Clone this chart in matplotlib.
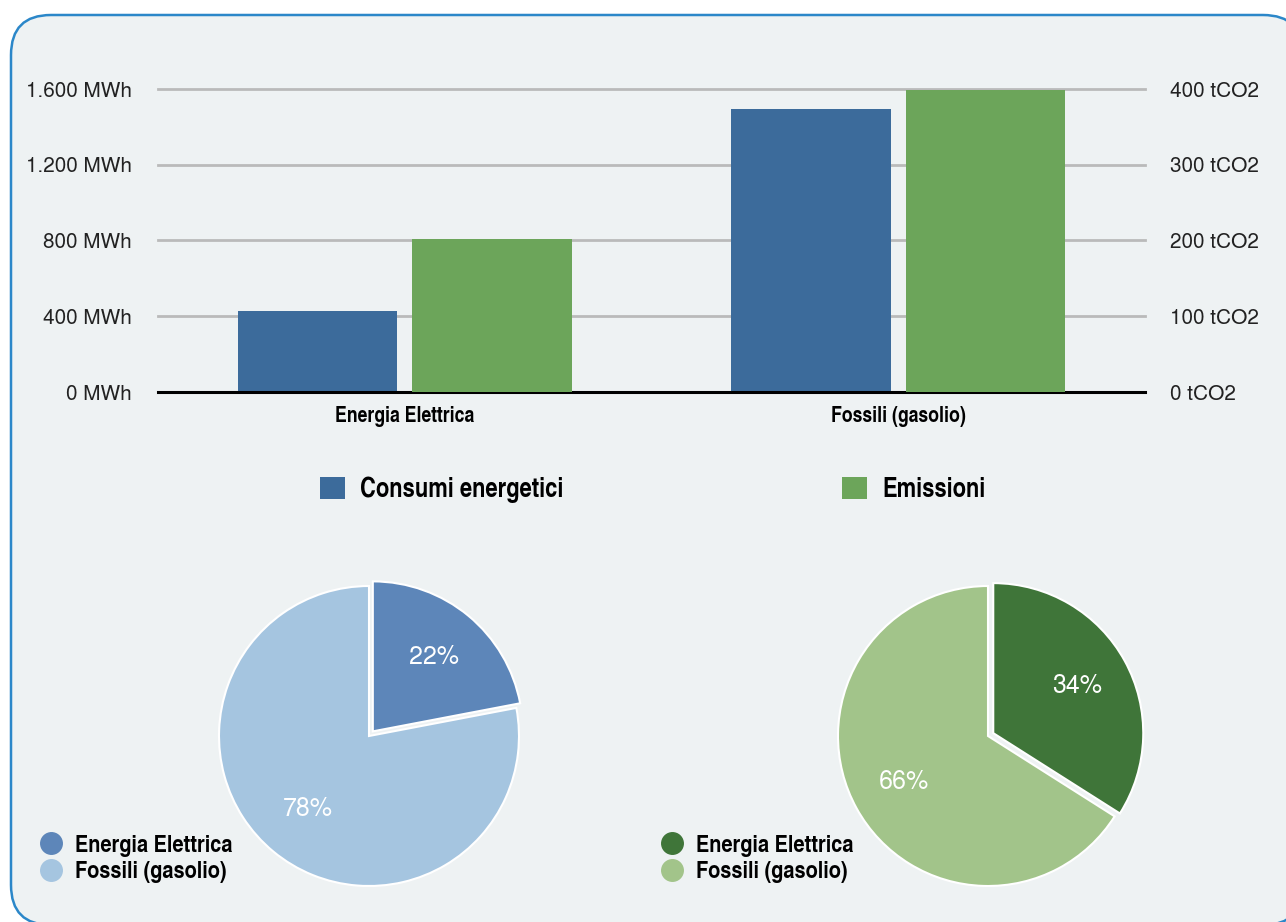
import matplotlib

matplotlib.use("Agg")
import matplotlib.pyplot as plt
import numpy as np
from matplotlib.lines import Line2D
from matplotlib.patches import FancyBboxPatch
from matplotlib.ticker import FuncFormatter, MultipleLocator

# data
categories = ["Energia Elettrica", "Fossili (gasolio)"]
consumi_mwh = [428, 1494]
emissioni_tco2 = [202, 399]
pie_consumi = [22, 78]
pie_emissioni = [34, 66]
series_labels = ["Consumi energetici", "Emissioni"]

BG = "#eef2f3"
BLUE = "#3c6b9b"
GREEN = "#6ca55a"
CONSUMI_PIE = ["#5d86b9", "#a5c5e0"]
EMISSIONI_PIE = ["#3f7539", "#a2c48a"]
LIGHT = ["TeX Gyre Heros", "Liberation Sans", "DejaVu Sans"]
BOLD = ["TeX Gyre Heros Cn", "Liberation Sans", "DejaVu Sans"]

W, H = 1286, 922
fig = plt.figure(figsize=(W / 100, H / 100), dpi=100, facecolor="white")

# rounded panel behind everything
panel = FancyBboxPatch(
    (0.11, -0.03), 12.92, 9.10, boxstyle="round,pad=0,rounding_size=0.4",
    transform=fig.dpi_scale_trans, facecolor=BG, edgecolor="#2b87c9",
    linewidth=1.8, zorder=-10,
)
fig.patches.append(panel)


def px_box(x0, y0, x1, y1):
    return [x0 / W, 1 - y1 / H, (x1 - x0) / W, (y1 - y0) / H]


# ---- grouped bars, two y axes
ax = fig.add_axes(px_box(158, 89, 1145, 392))
ax2 = ax.twinx()
for a in (ax, ax2):
    a.patch.set_visible(False)
    for s in a.spines.values():
        s.set_visible(False)

x = np.arange(len(categories))
bw, off = 0.323, 0.177
ax.set_ylim(0, 1600)
ax2.set_ylim(0, 400)
ax.set_xlim(-0.5, 1.5)
ax.bar(x - off, consumi_mwh, bw, color=BLUE, zorder=3, label=series_labels[0])
ax2.bar(x + off, emissioni_tco2, bw, color=GREEN, zorder=3, label=series_labels[1])

ax.yaxis.set_major_locator(MultipleLocator(400))
ax2.yaxis.set_major_locator(MultipleLocator(100))
ax.yaxis.grid(True, color="#bababa", linewidth=2, clip_on=False)
ax.set_axisbelow(True)
ax.spines["bottom"].set_visible(True)
ax.spines["bottom"].set_color("black")
ax.spines["bottom"].set_linewidth(2.2)
ax.spines["bottom"].set_zorder(4)

fmt = lambda unit: FuncFormatter(lambda v, p: f"{v:,.0f}".replace(",", ".") + f" {unit}")
ax.yaxis.set_major_formatter(fmt("MWh"))
ax2.yaxis.set_major_formatter(fmt("tCO2"))
ax.tick_params(axis="y", length=0, pad=19, labelsize=15, labelcolor="#222222")
ax2.tick_params(axis="y", length=0, pad=18, labelsize=15, labelcolor="#222222")
for t in ax.get_yticklabels() + ax2.get_yticklabels():
    t.set_family(LIGHT)

ax.set_xticks(x)
ax.set_xticklabels(categories)
ax.tick_params(axis="x", length=0, pad=10)
for t in ax.get_xticklabels():
    t.set_family(BOLD)
    t.set_fontweight("bold")
    t.set_fontsize(15.5)

# bar legend
handles = [ax.patches[0], ax2.patches[0]]
fig.legend(
    handles, series_labels, loc="center left", bbox_to_anchor=(320 / W, 1 - 490 / H),
    ncol=2, frameon=False, borderpad=0, borderaxespad=0, handlelength=0.93,
    handleheight=0.93, handletextpad=0.57, columnspacing=10.4,
    prop={"family": BOLD, "weight": "bold", "size": 19.3},
)


# ---- pies
def draw_pie(cx, cy, values, colors, legend_x):
    pax = fig.add_axes(px_box(cx - 165, cy - 165, cx + 165, cy + 165))
    wedges, _, autotexts = pax.pie(
        values, colors=colors, startangle=90, counterclock=False,
        explode=[0.04, 0], autopct="%d%%", pctdistance=0.64,
        wedgeprops={"edgecolor": "white", "linewidth": 1.5},
        textprops={"color": "white", "fontsize": 18, "family": LIGHT},
    )
    pax.set_xlim(-1.1, 1.1)
    pax.set_ylim(-1.1, 1.1)
    pax.set_aspect("equal")
    hs = [Line2D([], [], marker="o", linestyle="none", markersize=15.5,
                 markerfacecolor=c, markeredgecolor=c) for c in colors]
    fig.legend(
        hs, categories, loc="center left", bbox_to_anchor=(legend_x / W, 1 - 859 / H),
        frameon=False, borderpad=0, borderaxespad=0, handlelength=0.92,
        handletextpad=0.52, labelspacing=0.2,
        prop={"family": BOLD, "weight": "bold", "size": 17.5},
    )


draw_pie(369, 736, pie_consumi, CONSUMI_PIE, 40)
draw_pie(988, 736, pie_emissioni, EMISSIONI_PIE, 661)

fig.savefig("out.png", dpi=100, facecolor="white")
